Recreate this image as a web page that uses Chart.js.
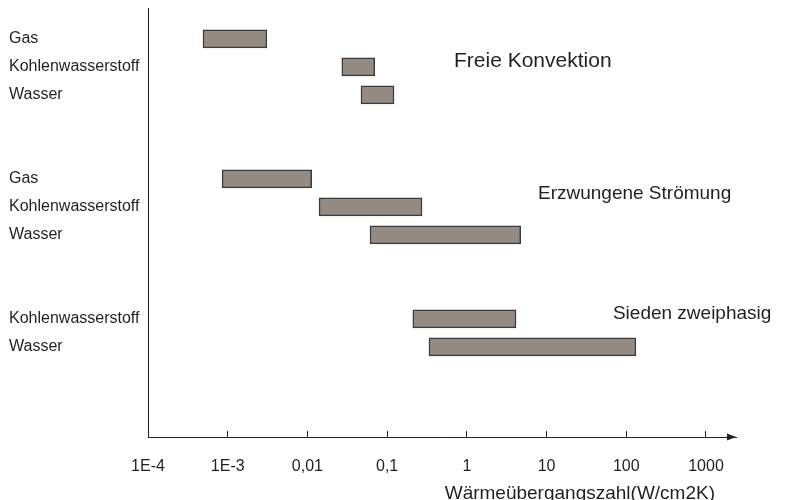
<!DOCTYPE html>
<html>
<head>
<meta charset="utf-8">
<script src="https://cdn.jsdelivr.net/npm/chart.js@4/dist/chart.umd.min.js"></script>
<style>
  html, body { margin: 0; padding: 0; background: #fff; }
  #wrap { width: 789px; height: 500px; }
</style>
</head>
<body>
<div id="wrap"><canvas id="myChart" width="789" height="500"></canvas></div>
<script>
// rows from top to bottom, empty strings are the gaps between groups
var rowLabels = ["Gas", "Kohlenwasserstoff", "Wasser", "", "",
                 "Gas", "Kohlenwasserstoff", "Wasser", "", "",
                 "Kohlenwasserstoff", "Wasser"];
// range of the heat transfer coefficient per row (W/cm2K)
var lowValues  = [0.00049, 0.027, 0.047, null, null, 0.00085, 0.014, 0.061, null, null, 0.21, 0.335];
var highValues = [0.0031,  0.070, 0.122, null, null, 0.0113,  0.274, 4.74,  null, null, 4.14, 132];

var tickValues = [1e-4, 1e-3, 1e-2, 1e-1, 1, 10, 100, 1000];
var tickLabels = ["1E-4", "1E-3", "0,01", "0,1", "1", "10", "100", "1000"];

var groupNames = ["Freie Konvektion", "Erzwungene Strömung", "Sieden zweiphasig"];

var axisTitle = "Wärmeübergangszahl(W/cm2K)";

var textColor = "#231f20";
var fontFam = "'Liberation Sans', Arial, sans-serif";

var rows = [];
rowLabels.forEach(function (lab, i) {
    if (lab !== "") rows.push({ x: [lowValues[i], highValues[i]], y: i });
});

// group captions, placed in data coordinates (value, row)
var notes = [
    { text: groupNames[0], x: 0.69, row: 0.8,  size: 21 },
    { text: groupNames[1], x: 7.8,  row: 5.54, size: 19 },
    { text: groupNames[2], x: 68,   row: 9.83, size: 19 }
];

var extras = {
    id: "extras",
    afterDraw: function (chart) {
        var ctx = chart.ctx;
        var xs = chart.scales.x, ys = chart.scales.y;
        var area = chart.chartArea;
        ctx.save();
        ctx.fillStyle = textColor;
        ctx.textBaseline = "middle";
        ctx.textAlign = "left";
        notes.forEach(function (n) {
            ctx.font = n.size + "px " + fontFam;
            ctx.fillText(n.text, xs.getPixelForValue(n.x), ys.getPixelForValue(n.row));
        });
        // arrow head at the end of the value axis
        ctx.beginPath();
        ctx.moveTo(area.right, area.bottom);
        ctx.lineTo(area.right - 9, area.bottom - 3.5);
        ctx.lineTo(area.right - 9, area.bottom + 3.5);
        ctx.closePath();
        ctx.fill();
        // axis title
        ctx.font = "19px " + fontFam;
        ctx.textAlign = "right";
        ctx.textBaseline = "alphabetic";
        ctx.fillText(axisTitle, area.right - 21, 499);
        ctx.restore();
    }
};

function drawchart() {
    var myChart = new Chart(document.getElementById("myChart"), {
        type: "bar",
        data: {
            datasets: [{
                data: rows,
                backgroundColor: "#958b85",
                borderColor: "#3b3b3b",
                borderWidth: 1.5,
                borderSkipped: false,
                barThickness: 18
            }]
        },
        options: {
            indexAxis: "y",
            responsive: false,
            animation: false,
            layout: { padding: { left: 9, top: 8, right: 53, bottom: 0 } },
            plugins: {
                legend: { display: false },
                tooltip: { enabled: false }
            },
            scales: {
                x: {
                    type: "logarithmic",
                    min: 1e-4,
                    max: 2380,
                    afterBuildTicks: function (scale) {
                        scale.ticks = tickValues.map(function (v) { return { value: v }; });
                    },
                    afterFit: function (scale) { scale.height = 63; },
                    grid: {
                        drawOnChartArea: false,
                        tickLength: -6,
                        color: textColor,
                        lineWidth: 1
                    },
                    border: { display: true, color: textColor, width: 1 },
                    ticks: {
                        autoSkip: false,
                        maxRotation: 0,
                        padding: 26,
                        color: textColor,
                        font: { family: fontFam, size: 16 },
                        callback: function (v, i) { return tickLabels[i]; }
                    }
                },
                y: {
                    type: "linear",
                    reverse: true,
                    offset: false,
                    min: -1.1,
                    max: 14.22,
                    afterBuildTicks: function (scale) {
                        var t = [];
                        rowLabels.forEach(function (lab, i) { if (lab !== "") t.push({ value: i }); });
                        scale.ticks = t;
                    },
                    afterFit: function (scale) {
                        scale.width = 139;
                        scale.paddingTop = 0;
                        scale.paddingBottom = 0;
                    },
                    grid: { display: false, offset: false },
                    border: { display: true, color: textColor, width: 1 },
                    ticks: {
                        autoSkip: false,
                        crossAlign: "far",
                        color: textColor,
                        font: { family: fontFam, size: 16 },
                        callback: function (v) { return rowLabels[v]; }
                    }
                }
            }
        },
        plugins: [extras]
    });
}
this.onload = drawchart();
</script>
</body>
</html>
